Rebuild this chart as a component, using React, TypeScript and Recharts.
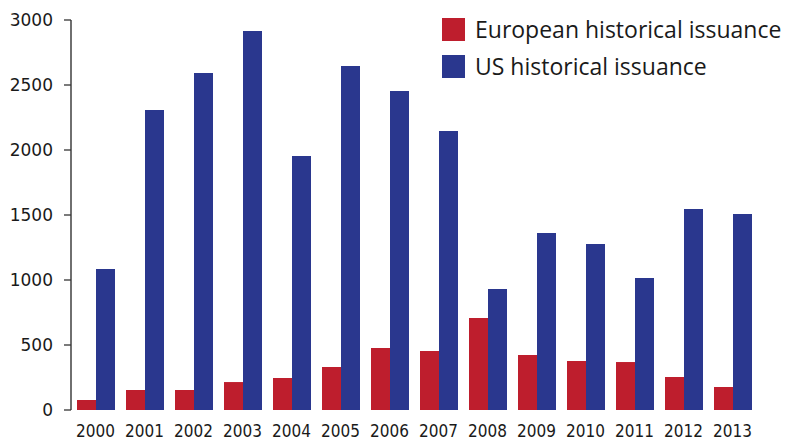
import React from "react";
import { BarChart, Bar, XAxis, YAxis } from "recharts";

const years = ["2000","2001","2002","2003","2004","2005","2006","2007","2008","2009","2010","2011","2012","2013"];
const european = [77, 154, 154, 215, 246, 331, 477, 454, 708, 423, 377, 369, 254, 177];
const us = [1085, 2308, 2592, 2915, 1954, 2646, 2454, 2146, 931, 1362, 1277, 1015, 1546, 1508];
const yTicks = [0, 500, 1000, 1500, 2000, 2500, 3000];
const boundaryTicks = [0,1,2,3,4,5,6,7,8,9,10,11,12,13,14];

const seriesNames = ["European historical issuance", "US historical issuance"];
const RED = "#BE1E2D";
const BLUE = "#2A378E";

const data = years.map((y, i) => ({ year: y, eu: european[i], us: us[i] }));

const LegendBox = () => (
  <div style={{ position: "absolute", left: 442, top: 18, fontFamily: "'Open Sans', sans-serif", color: "#1a1a1a" }}>
    {[{ c: RED, t: seriesNames[0] }, { c: BLUE, t: seriesNames[1] }].map((r, i) => (
      <div key={i} style={{ display: "flex", alignItems: "center", height: 23, marginBottom: i === 0 ? 14 : 0 }}>
        <div style={{ width: 23, height: 23, background: r.c, marginRight: 10 }} />
        <span style={{ fontSize: 23, lineHeight: "23px", whiteSpace: "nowrap" }}>{r.t}</span>
      </div>
    ))}
  </div>
);

export default function App() {
  return (
    <div style={{ position: "absolute", left: 0, top: 0, width: 803, height: 441, background: "#fff" }}>
      <BarChart
        width={803}
        height={441}
        data={data}
        margin={{ top: 20, right: 46, bottom: 0, left: 0 }}
        barGap={0}
        barSize={19}
      >
        <XAxis
          xAxisId="num"
          type="number"
          domain={[0, 14]}
          ticks={boundaryTicks}
          height={0}
          tickSize={7}
          tickFormatter={() => ""}
          axisLine={{ stroke: "#6b6b6b", strokeWidth: 1.5 }}
          tickLine={{ stroke: "#333", strokeWidth: 1.5 }}
          allowDataOverflow
        />
        <XAxis
          xAxisId="cat"
          dataKey="year"
          height={31}
          tickSize={0}
          tickMargin={15}
          axisLine={false}
          tickLine={false}
          interval={0}
          tick={{ fontFamily: "'DejaVu Sans Condensed', 'DejaVu Sans', sans-serif", fontSize: 17, fill: "#1a1a1a" }}
        />
        <YAxis
          width={71}
          domain={[0, 3000]}
          ticks={yTicks}
          interval={0}
          tickSize={7}
          tickMargin={11}
          axisLine={{ stroke: "#222", strokeWidth: 1.3 }}
          tickLine={{ stroke: "#333", strokeWidth: 1.3 }}
          tick={{ fontFamily: "'DejaVu Sans', sans-serif", fontSize: 17, fill: "#1a1a1a" }}
        />
        <Bar xAxisId="cat" dataKey="eu" name={seriesNames[0]} fill={RED} isAnimationActive={false} />
        <Bar xAxisId="cat" dataKey="us" name={seriesNames[1]} fill={BLUE} isAnimationActive={false} />
      </BarChart>
      <LegendBox />
    </div>
  );
}
